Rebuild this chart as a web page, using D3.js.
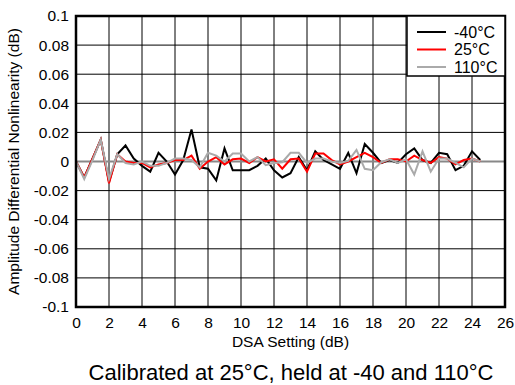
<!DOCTYPE html>
<html><head><meta charset="utf-8">
<script src="https://cdn.jsdelivr.net/npm/d3@7"></script>
<style>body{margin:0;background:#fff}svg{display:block}text{font-family:"Liberation Sans",Arial,sans-serif;fill:#000}</style>
</head><body>
<script>
const dsaSettings = d3.range(0, 24.51, 0.5);
const minus40 = [0,-0.011,0.002,0.015,-0.014,0.005,0.011,0.002,-0.003,-0.007,0.006,0,-0.009,0.001,0.022,-0.004,-0.005,-0.013,0.009,-0.006,-0.006,-0.006,-0.003,0.002,-0.006,-0.011,-0.008,0.003,-0.006,0.007,0.001,-0.002,-0.005,0.006,-0.008,0.012,0.006,-0.001,0.001,-0.001,0.005,0.009,0.001,-0.001,0.006,0.005,-0.006,-0.003,0.007,0.001];
const plus25 = [0,-0.011,0.002,0.015,-0.015,0.005,0,-0.001,-0.001,-0.004,-0.002,-0.001,0.001,0.001,0.004,-0.005,0,0.003,-0.002,0.0015,0.002,-0.001,0.003,0,0.0015,-0.005,0.0015,0.002,-0.007,0.0055,0.0055,0.001,-0.002,0,0.003,0.006,0.003,-0.001,0.0015,0.0015,0,0.004,0.001,-0.001,0.003,0.002,-0.002,0.001,0.002,0];
const plus110 = [0,-0.012,0.001,0.015,-0.012,0.005,-0.001,-0.002,0,-0.003,-0.003,-0.001,0.002,0.002,0.001,-0.004,0.006,0.004,0,0.0055,0.0055,0,0.003,-0.0025,-0.001,-0.0005,0.006,0.006,-0.001,0.002,0.002,0,-0.001,0.0005,0.008,-0.005,-0.006,-0.0005,0.0015,-0.001,0.0015,-0.009,0.007,-0.007,0.002,0.002,-0.001,-0.004,0.002,0];
const seriesNames = ["-40°C","25°C","110°C"];
const seriesColors = ["#000000","#ff0000","#aaaaaa"];
const xTicks = d3.range(0, 27, 2);
const yTicks = [0.1,0.08,0.06,0.04,0.02,0,-0.02,-0.04,-0.06,-0.08,-0.1];
const xTitle = "DSA Setting (dB)";
const yTitle = "Amplitude Differential Nonlinearity (dB)";
const caption = "Calibrated at 25°C, held at -40 and 110°C";

const W=515,H=385, L=76,R=505,T=16,B=307;
const FF="Liberation Sans, Arial, sans-serif";
const svg=d3.select("body").append("svg").attr("width",W).attr("height",H);
const x=d3.scaleLinear().domain([0,26]).range([L,R]);
const y=d3.scaleLinear().domain([-0.1,0.1]).range([B,T]);

// grid
svg.append("g").selectAll("line").data(xTicks).join("line")
 .attr("x1",d=>x(d)).attr("x2",d=>x(d)).attr("y1",T).attr("y2",B)
 .attr("stroke","#000").attr("stroke-width",1);
svg.append("g").selectAll("line").data(yTicks.filter(d=>d!==0)).join("line")
 .attr("x1",L).attr("x2",R).attr("y1",d=>y(d)).attr("y2",d=>y(d))
 .attr("stroke","#000").attr("stroke-width",1);
svg.append("line").attr("x1",L).attr("x2",R).attr("y1",y(0)).attr("y2",y(0))
 .attr("stroke","#888").attr("stroke-width",2);

// axes labels via d3 axes
const xa=svg.append("g").attr("transform",`translate(0,${B})`)
 .call(d3.axisBottom(x).tickValues(xTicks).tickSize(0).tickPadding(10).tickFormat(d3.format("d")));
xa.select(".domain").remove();
xa.selectAll("text").style("font-size","15.5px").style("font-family",FF);
const ya=svg.append("g").attr("transform",`translate(${L},0)`)
 .call(d3.axisLeft(y).tickValues(yTicks).tickSize(0).tickPadding(7).tickFormat(d=>d===0?"0":String(+d.toFixed(2))));
ya.select(".domain").remove();
ya.selectAll("text").style("font-size","15.5px").style("font-family",FF);

// lines (black, red, gray on top)
const allSeries=[minus40,plus25,plus110];
const lineGen=d3.line().x((d,i)=>x(dsaSettings[i])).y(d=>y(d));
[0,1,2].forEach(k=>{
 svg.append("path").datum(allSeries[k]).attr("d",lineGen)
  .attr("fill","none").attr("stroke",seriesColors[k]).attr("stroke-width",2).attr("stroke-linejoin","miter");
});

// frame
svg.append("rect").attr("x",L).attr("y",T).attr("width",R-L).attr("height",B-T)
 .attr("fill","none").attr("stroke","#000").attr("stroke-width",2.5);

// legend
const lg=svg.append("g");
lg.append("rect").attr("x",407).attr("y",T).attr("width",R-407).attr("height",60)
 .attr("fill","#fff").attr("stroke","#000").attr("stroke-width",1.5);
seriesNames.forEach((n,i)=>{
 const yy=32+i*17.5;
 lg.append("line").attr("x1",417).attr("x2",446).attr("y1",yy).attr("y2",yy)
  .attr("stroke",seriesColors[i]).attr("stroke-width",2);
 lg.append("text").attr("x",454).attr("y",yy+5.5).style("font-size","16px").text(n);
});

// titles
svg.append("text").attr("x",(L+R)/2).attr("y",347).attr("text-anchor","middle").style("font-size","15.5px").text(xTitle);
svg.append("text").attr("transform",`translate(19,${(T+B)/2}) rotate(-90)`).attr("text-anchor","middle").style("font-size","15.5px").text(yTitle);
svg.append("text").attr("x",291).attr("y",380).attr("text-anchor","middle").style("font-size","22px").text(caption);
</script>
</body></html>
